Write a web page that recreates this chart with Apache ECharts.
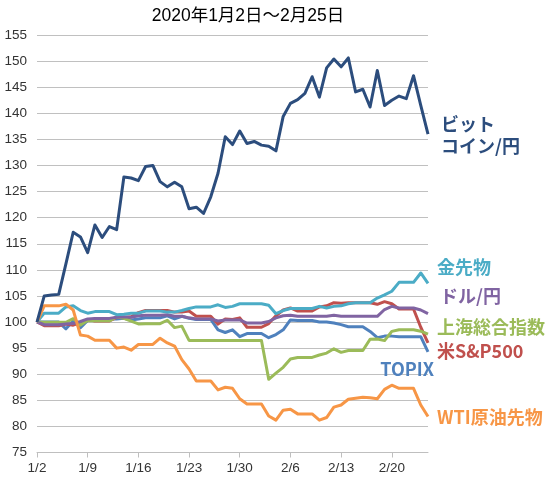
<!DOCTYPE html>
<html>
<head>
<meta charset="utf-8">
<script src="https://cdn.jsdelivr.net/npm/echarts@6/dist/echarts.min.js"></script>
<style>
html,body{margin:0;padding:0;background:#fff;}
#chart{width:550px;height:480px;}
</style>
</head>
<body>
<div id="chart"></div>
<script>
var dates = ['1/2','1/3','1/4','1/5','1/6','1/7','1/8','1/9','1/10','1/11',
  '1/12','1/13','1/14','1/15','1/16','1/17','1/18','1/19','1/20','1/21',
  '1/22','1/23','1/24','1/25','1/26','1/27','1/28','1/29','1/30','1/31',
  '2/1','2/2','2/3','2/4','2/5','2/6','2/7','2/8','2/9','2/10',
  '2/11','2/12','2/13','2/14','2/15','2/16','2/17','2/18','2/19','2/20',
  '2/21','2/22','2/23','2/24','2/25'];

var bitcoin = [100,105.0,105.2,105.3,111.2,117.2,116.3,113.3,118.6,116.2,
  118.3,117.7,127.8,127.6,127.1,129.8,130.0,126.9,125.9,126.8,
  125.9,121.7,122.0,120.8,124.0,128.5,135.5,134.0,136.6,134.2,
  134.6,133.9,133.7,132.8,139.4,141.9,142.6,143.8,147.0,143.1,
  148.7,150.4,148.9,150.6,144.1,144.6,141.2,148.2,141.5,142.5,
  143.3,142.8,147.2,141.5,136.0];

var gold = [100,101.7,101.7,101.7,102.9,103.1,102.2,101.7,102.0,102.0,
  102.0,101.4,101.5,101.7,101.7,102.1,102.1,102.1,101.9,101.9,
  102.2,102.6,102.9,102.9,102.9,103.3,102.8,103.0,103.5,103.5,
  103.5,103.5,103.2,101.6,102.2,102.6,102.6,102.6,102.6,103.0,
  102.7,103.0,103.1,103.5,103.7,103.7,103.7,104.6,105.2,105.9,
  107.6,107.6,107.6,109.4,107.4];

var usdjpy = [100,99.5,99.5,99.5,99.6,99.7,100.1,100.6,100.7,100.7,
  100.7,100.9,101.0,100.9,101.2,101.3,101.3,101.3,101.4,101.1,
  101.1,100.8,100.6,100.6,100.6,100.2,100.4,100.4,100.4,99.8,
  99.8,99.8,100.1,100.8,101.2,101.3,101.1,101.1,101.1,101.1,
  101.1,101.3,101.1,101.1,101.1,101.1,101.1,101.1,102.4,103.0,
  102.7,102.7,102.7,102.3,101.6];

var shanghai = [100,99.95,99.95,99.95,99.94,100.64,99.41,100.31,100.23,100.23,
  100.23,100.98,100.70,100.16,99.64,99.68,99.68,99.68,100.34,98.93,
  99.21,96.48,96.48,96.48,96.48,96.48,96.48,96.48,96.48,96.48,
  96.48,96.48,89.03,90.21,91.32,92.91,93.22,93.22,93.22,93.69,
  94.05,94.87,94.19,94.55,94.55,94.55,96.71,96.75,96.44,98.21,
  98.52,98.52,98.52,98.25,97.66];

var sp500 = [100,99.3,99.3,99.3,99.6,99.4,99.9,100.5,100.2,100.2,
  100.2,100.9,100.8,101.0,101.8,102.2,102.2,102.2,102.2,101.9,
  101.9,102.1,101.1,101.1,101.1,99.6,100.6,100.5,100.8,99.0,
  99.0,99.0,99.7,101.2,102.3,102.7,102.1,102.1,102.1,102.9,
  103.1,103.7,103.6,103.7,103.7,103.7,103.7,103.4,103.9,103.5,
  102.5,102.5,102.5,99.0,96.0];

var topix = [100,100,100,100,98.7,100.2,98.9,100.3,100.6,100.6,
  100.6,100.6,100.7,100.4,100.6,100.8,100.8,100.8,101.2,100.6,
  101.1,100.7,100.5,100.5,100.5,98.5,98.0,98.5,97.2,97.8,
  97.8,97.8,97.0,97.6,98.5,100.4,100.3,100.3,100.3,100.0,
  100.0,99.8,99.5,99.1,99.1,99.1,98.2,97.0,97.3,97.3,
  97.2,97.2,97.2,97.2,94.3];

var wti = [100,103.1,103.1,103.1,103.4,102.3,97.5,97.3,96.5,96.5,
  96.5,95.0,95.2,94.6,95.7,95.7,95.7,96.9,96.0,95.4,
  92.8,91.0,88.7,88.7,88.7,87.0,87.5,87.3,85.3,84.3,
  84.3,84.3,82.0,81.2,83.1,83.3,82.4,82.4,82.4,81.2,
  81.7,83.7,84.1,85.2,85.4,85.6,85.5,85.3,87.1,87.9,
  87.3,87.3,87.3,84.1,81.9];

var titleText = '2020年1月2日～2月25日';

var seriesDefs = [
  {name:'TOPIX', data:topix, color:'#4F81BD'},
  {name:'米S&P500', data:sp500, color:'#C0504D'},
  {name:'上海総合指数', data:shanghai, color:'#9BBB59'},
  {name:'ドル/円', data:usdjpy, color:'#8064A2'},
  {name:'金先物', data:gold, color:'#4BACC6'},
  {name:'WTI原油先物', data:wti, color:'#F79646'},
  {name:'ビットコイン/円', data:bitcoin, color:'#2C4D7D'}
];

var labelFont = '"Noto Sans CJK JP", "Liberation Sans", sans-serif';
var axisFont = '"Liberation Sans", Arial, sans-serif';

function lbl(text, x, y, color, align, lh) {
  return {
    type: 'text',
    style: {
      text: text, x: x, y: y, fill: color,
      align: align || 'left', verticalAlign: 'middle',
      fontFamily: labelFont, fontSize: 18, fontWeight: 'bold',
      lineHeight: lh || 22
    },
    z: 100
  };
}

var chart = echarts.init(document.getElementById('chart'), null, {renderer:'canvas'});
chart.setOption({
  animation: false,
  backgroundColor: '#ffffff',
  grid: {left: 37, right: 122, top: 35, bottom: 27.5, containLabel: false},
  xAxis: {
    type: 'category',
    data: dates,
    boundaryGap: false,
    axisLine: {show: true, lineStyle: {color: '#BFBFBF', width: 1}},
    axisTick: {show: true, interval: 6, length: 5, lineStyle: {color: '#BFBFBF'}},
    axisLabel: {interval: 6, fontSize: 13.5, color: '#333333', margin: 9, fontFamily: axisFont},
    splitLine: {show: false}
  },
  yAxis: {
    type: 'value',
    min: 75, max: 155, interval: 5,
    axisLine: {show: false},
    axisTick: {show: false},
    axisLabel: {fontSize: 13.5, color: '#333333', margin: 10, fontFamily: axisFont},
    splitLine: {show: true, lineStyle: {color: '#C0C0C0', width: 1}}
  },
  series: seriesDefs.map(function(s){
    return {
      name: s.name, type: 'line', data: s.data,
      symbol: 'none', smooth: false,
      lineStyle: {color: s.color, width: 3, join: 'round'},
      itemStyle: {color: s.color}
    };
  }),
  graphic: [
    {
      type: 'text',
      style: {
        text: titleText, x: 248, y: 16, fill: '#000000',
        align: 'center', verticalAlign: 'middle',
        fontFamily: '"Liberation Sans", "Noto Sans CJK JP", sans-serif', fontSize: 17.5
      }
    },
    lbl('ビット\nコイン/円', 441, 135, '#2C4D7D', 'left', 22),
    lbl('金先物', 437, 267, '#4BACC6'),
    lbl('ドル/円', 440, 296, '#8064A2'),
    lbl('上海総合指数', 437, 327, '#9BBB59'),
    lbl('米S&P500', 437, 351, '#C0504D'),
    lbl('TOPIX', 434, 369, '#4F81BD', 'right'),
    lbl('WTI原油先物', 437, 417, '#F79646')
  ]
});
</script>
</body>
</html>
